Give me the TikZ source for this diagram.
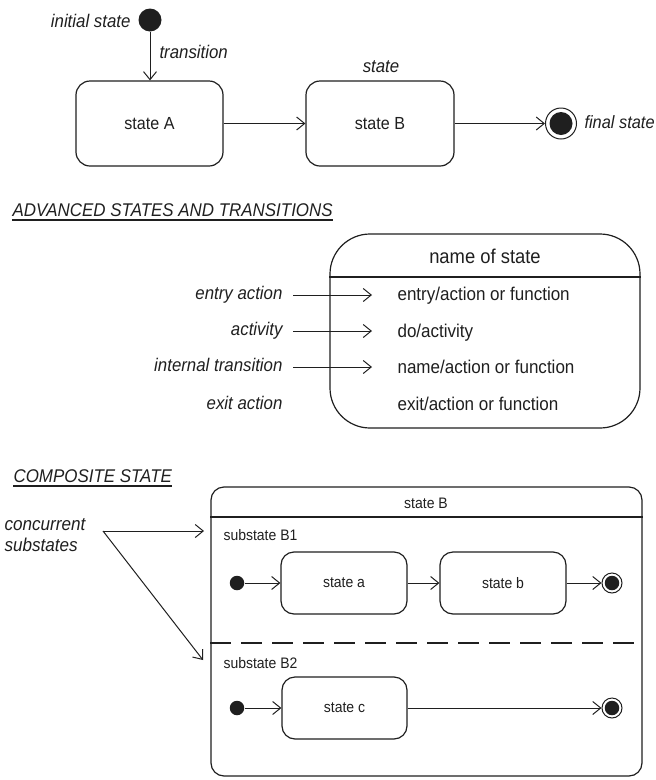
\documentclass[tikz,border=0pt]{standalone}
\usepackage{fontspec}
\setmainfont{Liberation Sans}[FakeStretch=0.92]
\usetikzlibrary{arrows.meta}
\begin{document}
\begin{tikzpicture}[x=1pt,y=-1pt,line width=1.1pt,color=black!88,
  tr/.style={-{Straight Barb[length=8pt,width=13pt,line width=1pt]},line width=1pt},
  anno/.style={font=\itshape\fontsize{18.3}{22}\selectfont,inner sep=0pt},
  heading/.style={font=\itshape\fontsize{18.4}{22}\selectfont,inner sep=0pt},
  rowtxt/.style={font=\fontsize{18.5}{22}\selectfont,inner sep=0pt},
  bigtxt/.style={font=\fontsize{20}{24}\selectfont,inner sep=0pt},
  smalltxt/.style={font=\fontsize{15.2}{18}\selectfont,inner sep=0pt},
  statebox/.style={draw,rounded corners=14pt,line width=1.2pt,inner sep=0pt,font=\fontsize{17.5}{20}\selectfont},
  substatebox/.style={draw,rounded corners=13pt,line width=1.2pt,inner sep=0pt,minimum width=126pt,minimum height=62pt,font=\fontsize{15.2}{18}\selectfont},
  initdot/.style={circle,fill,inner sep=0pt},
  finring/.style={circle,draw,fill=white,inner sep=0pt,line width=1pt},
  lbl/.style={anno,anchor=east,text height=13pt,text depth=4pt,inner xsep=10pt,inner ysep=0pt}
]
\useasboundingbox (0,0) rectangle (656,780);

% ---------- top: simple states ----------
\node[initdot,minimum size=23pt] (init) at (150,20) {};
\node[anno,anchor=base east] (initlbl) at (131,27) {initial state};
\node[statebox,minimum width=147pt,minimum height=85pt] (A) at (149.5,123.5) {state A};
\node[statebox,minimum width=148pt,minimum height=85pt] (B) at (380,123.5) {state B};
\node[anno,anchor=base] (statelbl) at (381,72) {state};
\node[finring,minimum size=31pt] (fin) at (561,123.5) {};
\node[initdot,minimum size=23pt] (fininner) at (fin) {};
\node[anno,anchor=base west,font=\itshape\fontsize{17.8}{22}\selectfont] (finlbl) at (584,128) {final state};
\node[anno,anchor=base west] (translbl) at (159,58) {transition};
\draw[tr] (init) -- (init |- A.north);
\draw[tr] (A) -- (B);
\draw[tr] (B) -- (fin);

% ---------- middle: advanced state ----------
\node[heading,anchor=base west] (h1) at (12,216) {ADVANCED STATES AND TRANSITIONS};
\draw ([yshift=-4pt]h1.base west) -- ([yshift=-4pt]h1.base east);
\node[draw,rounded corners=40pt,line width=1.2pt,minimum width=310pt,minimum height=194pt] (mbox) at (485,331) {};
\coordinate (mh) at (485,277);
\draw[line width=1.2pt] (mbox.west |- mh) -- (mbox.east |- mh);
\node[bigtxt,anchor=base] (nos) at (485,263) {name of state};
\node[rowtxt,anchor=base west] (r1) at (397,300) {entry/action or function};
\node[rowtxt,anchor=base west] (r2) at (397,337) {do/activity};
\node[rowtxt,anchor=base west] (r3) at (397,373) {name/action or function};
\node[rowtxt,anchor=base west] (r4) at (397,410) {exit/action or function};
\node[lbl] (l1) at (293,295) {entry action};
\node[lbl] (l2) at (293,331) {activity};
\node[lbl] (l3) at (293,367) {internal transition};
\node[lbl] (l4) at (293,405) {exit action};
\coordinate (t1) at (372,295);
\coordinate (t2) at (372,331);
\coordinate (t3) at (372,367);
\draw[tr] (l1.east) -- (t1);
\draw[tr] (l2.east) -- (t2);
\draw[tr] (l3.east) -- (t3);

% ---------- bottom: composite state ----------
\node[heading,anchor=base west] (h2) at (13,482) {COMPOSITE STATE};
\draw ([yshift=-4pt]h2.base west) -- ([yshift=-4pt]h2.base east);
\node[draw,rounded corners=13pt,line width=1.2pt,minimum width=431pt,minimum height=289pt] (cbox) at (426.5,631.5) {};
\coordinate (ch) at (426,517);
\coordinate (cd) at (426,643);
\draw[line width=1.2pt] (cbox.west |- ch) -- (cbox.east |- ch);
\draw[line width=1.1pt,dash pattern=on 21pt off 10pt] (cbox.west |- cd) -- (cbox.east |- cd);
\node[smalltxt,anchor=base] (cB) at (426,508) {state B};
\node[smalltxt,anchor=base west] (sb1) at (223,540) {substate B1};
\node[smalltxt,anchor=base west] (sb2) at (223,668) {substate B2};
\node[initdot,minimum size=14.5pt] (ia) at (237,583) {};
\node[substatebox] (sa) at (344,583) {state a};
\node[substatebox] (sbx) at (503,583) {state b};
\node[finring,minimum size=20pt] (fb) at (612,583) {};
\node[initdot,minimum size=14.5pt] (fbi) at (fb) {};
\node[initdot,minimum size=14.5pt] (ic) at (237,708) {};
\node[substatebox,minimum width=125pt] (sc) at (344.5,708) {state c};
\node[finring,minimum size=20pt] (fc) at (612,708) {};
\node[initdot,minimum size=14.5pt] (fci) at (fc) {};
\draw[tr] (ia) -- (sa);
\draw[tr] (sa) -- (sbx);
\draw[tr] (sbx) -- (fb);
\draw[tr] (ic) -- (sc);
\draw[tr] (sc) -- (fc);

\node[anno,anchor=base west,font=\itshape\fontsize{18.6}{22}\selectfont] (conc1) at (4,530) {concurrent};
\node[anno,anchor=base west,font=\itshape\fontsize{18.6}{22}\selectfont] (conc2) at (4,551) {substates};
\coordinate (apex) at (103,531);
\coordinate (c1) at (204,531);
\coordinate (c2) at (203,660);
\draw[tr] (apex) -- (c1);
\draw[tr] (apex) -- (c2);
\end{tikzpicture}
\end{document}
